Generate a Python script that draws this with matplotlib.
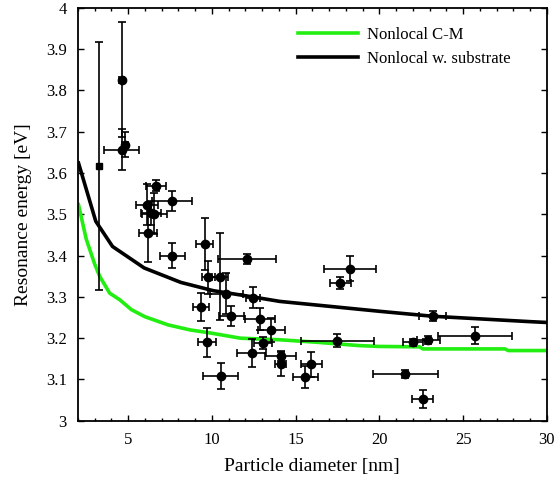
import matplotlib
matplotlib.use("Agg")
import matplotlib.pyplot as plt
import numpy as np
from matplotlib.ticker import MultipleLocator, FormatStrFormatter

plt.rcParams["font.family"] = ["Liberation Serif", "DejaVu Serif"]

# measured resonances: diameter [nm], energy [eV] and their errors
diam = [4.61, 4.81, 4.61, 6.66, 7.60, 6.12, 6.36, 6.56, 6.20, 7.63,
        9.58, 12.10, 9.80, 10.48, 10.87, 12.45, 9.38, 11.15, 12.87, 13.56,
        9.72, 13.06, 12.37, 14.10, 14.10, 15.95, 15.59, 10.52, 17.50, 18.24,
        17.68, 23.18, 25.70, 22.92, 22.00, 21.56, 22.58]
energy = [3.826, 3.668, 3.656, 3.569, 3.533, 3.523, 3.503, 3.501, 3.454, 3.400,
          3.428, 3.392, 3.348, 3.349, 3.308, 3.298, 3.275, 3.253, 3.246, 3.220,
          3.190, 3.188, 3.164, 3.156, 3.138, 3.137, 3.106, 3.109, 3.194, 3.368,
          3.333, 3.253, 3.206, 3.196, 3.190, 3.114, 3.053]
diam_err = [0.15, 0.20, 1.05, 0.60, 1.20, 0.65, 0.60, 0.75, 0.55, 0.75,
            0.50, 1.72, 0.40, 0.50, 1.00, 0.40, 0.48, 0.75, 0.90, 0.80,
            0.55, 0.55, 0.85, 0.95, 0.30, 0.65, 0.75, 1.04, 2.20, 1.56,
            0.65, 0.80, 2.20, 0.70, 0.60, 1.95, 0.63]
energy_err = [0.140, 0.030, 0.050, 0.013, 0.024, 0.050, 0.030, 0.050, 0.070, 0.030,
              0.064, 0.012, 0.040, 0.106, 0.050, 0.026, 0.034, 0.024, 0.026, 0.030,
              0.035, 0.015, 0.033, 0.012, 0.029, 0.030, 0.027, 0.032, 0.015, 0.030,
              0.014, 0.012, 0.020, 0.010, 0.008, 0.010, 0.022]

# single point drawn with a square marker
sq_diam = [3.27]
sq_energy = [3.616]
sq_energy_err = [0.30]

# model curves
cm_d = [2.04, 2.5, 3.0, 3.3, 3.9, 4.5, 5.2, 6.0, 7.4, 8.7, 10.0, 11.7,
        14.1, 16.3, 18.8, 20.0, 22.4, 22.6, 27.5, 27.7, 30.0]
cm_e = [3.523, 3.44, 3.38, 3.350, 3.309, 3.293, 3.269, 3.252, 3.232, 3.220, 3.212, 3.200,
        3.196, 3.190, 3.182, 3.180, 3.179, 3.174, 3.174, 3.170, 3.170]
sub_d = [2.04, 3.07, 4.07, 5.96, 8.15, 10.08, 12.27, 14.06, 20.03, 23.2, 29.0, 30.0]
sub_e = [3.624, 3.483, 3.422, 3.370, 3.335, 3.315, 3.301, 3.289, 3.265, 3.253, 3.240, 3.238]

yticks = [3, 3.1, 3.2, 3.3, 3.4, 3.5, 3.6, 3.7, 3.8, 3.9, 4]
ytick_labels = ["3", "3.1", "3.2", "3.3", "3.4", "3.5", "3.6", "3.7", "3.8", "3.9", "4"]

fig = plt.figure(figsize=(5.56, 4.82), dpi=100)
ax = fig.add_axes([0.140, 0.127, 0.8435, 0.857])

ax.plot(cm_d, cm_e, color="#22ee11", lw=2.6, label="Nonlocal C-M")
ax.plot(sub_d, sub_e, color="black", lw=2.6, label="Nonlocal w. substrate")

ax.errorbar(diam, energy, xerr=diam_err, yerr=energy_err, fmt="o", color="black",
            ms=6, elinewidth=1.2, capsize=3, capthick=1.2)
ax.errorbar(sq_diam, sq_energy, yerr=sq_energy_err, fmt="s", color="black",
            ms=5, elinewidth=1.2, capsize=3, capthick=1.2)

ax.set_xlim(2, 30)
ax.set_ylim(3, 4)
ax.xaxis.set_major_locator(MultipleLocator(5))
ax.xaxis.set_minor_locator(MultipleLocator(1))
ax.xaxis.set_major_formatter(FormatStrFormatter("%d"))
ax.set_yticks(yticks)
ax.set_yticklabels(ytick_labels)
ax.tick_params(which="both", direction="in", top=True, right=True, labelsize=12,
               width=1, pad=8)
ax.tick_params(which="major", length=4)
ax.tick_params(which="minor", length=2.5)
for s in ax.spines.values():
    s.set_linewidth(1.3)

ax.set_xlabel("Particle diameter [nm]", fontsize=14, labelpad=7)
ax.set_ylabel("Resonance energy [eV]", fontsize=14, labelpad=10)

ax.legend(loc="upper left", bbox_to_anchor=(0.469, 0.953), frameon=False, fontsize=12,
          handlelength=3.6, handletextpad=0.54, labelspacing=0.45, borderpad=0,
          borderaxespad=0)

fig.savefig("out.png", dpi=100)
